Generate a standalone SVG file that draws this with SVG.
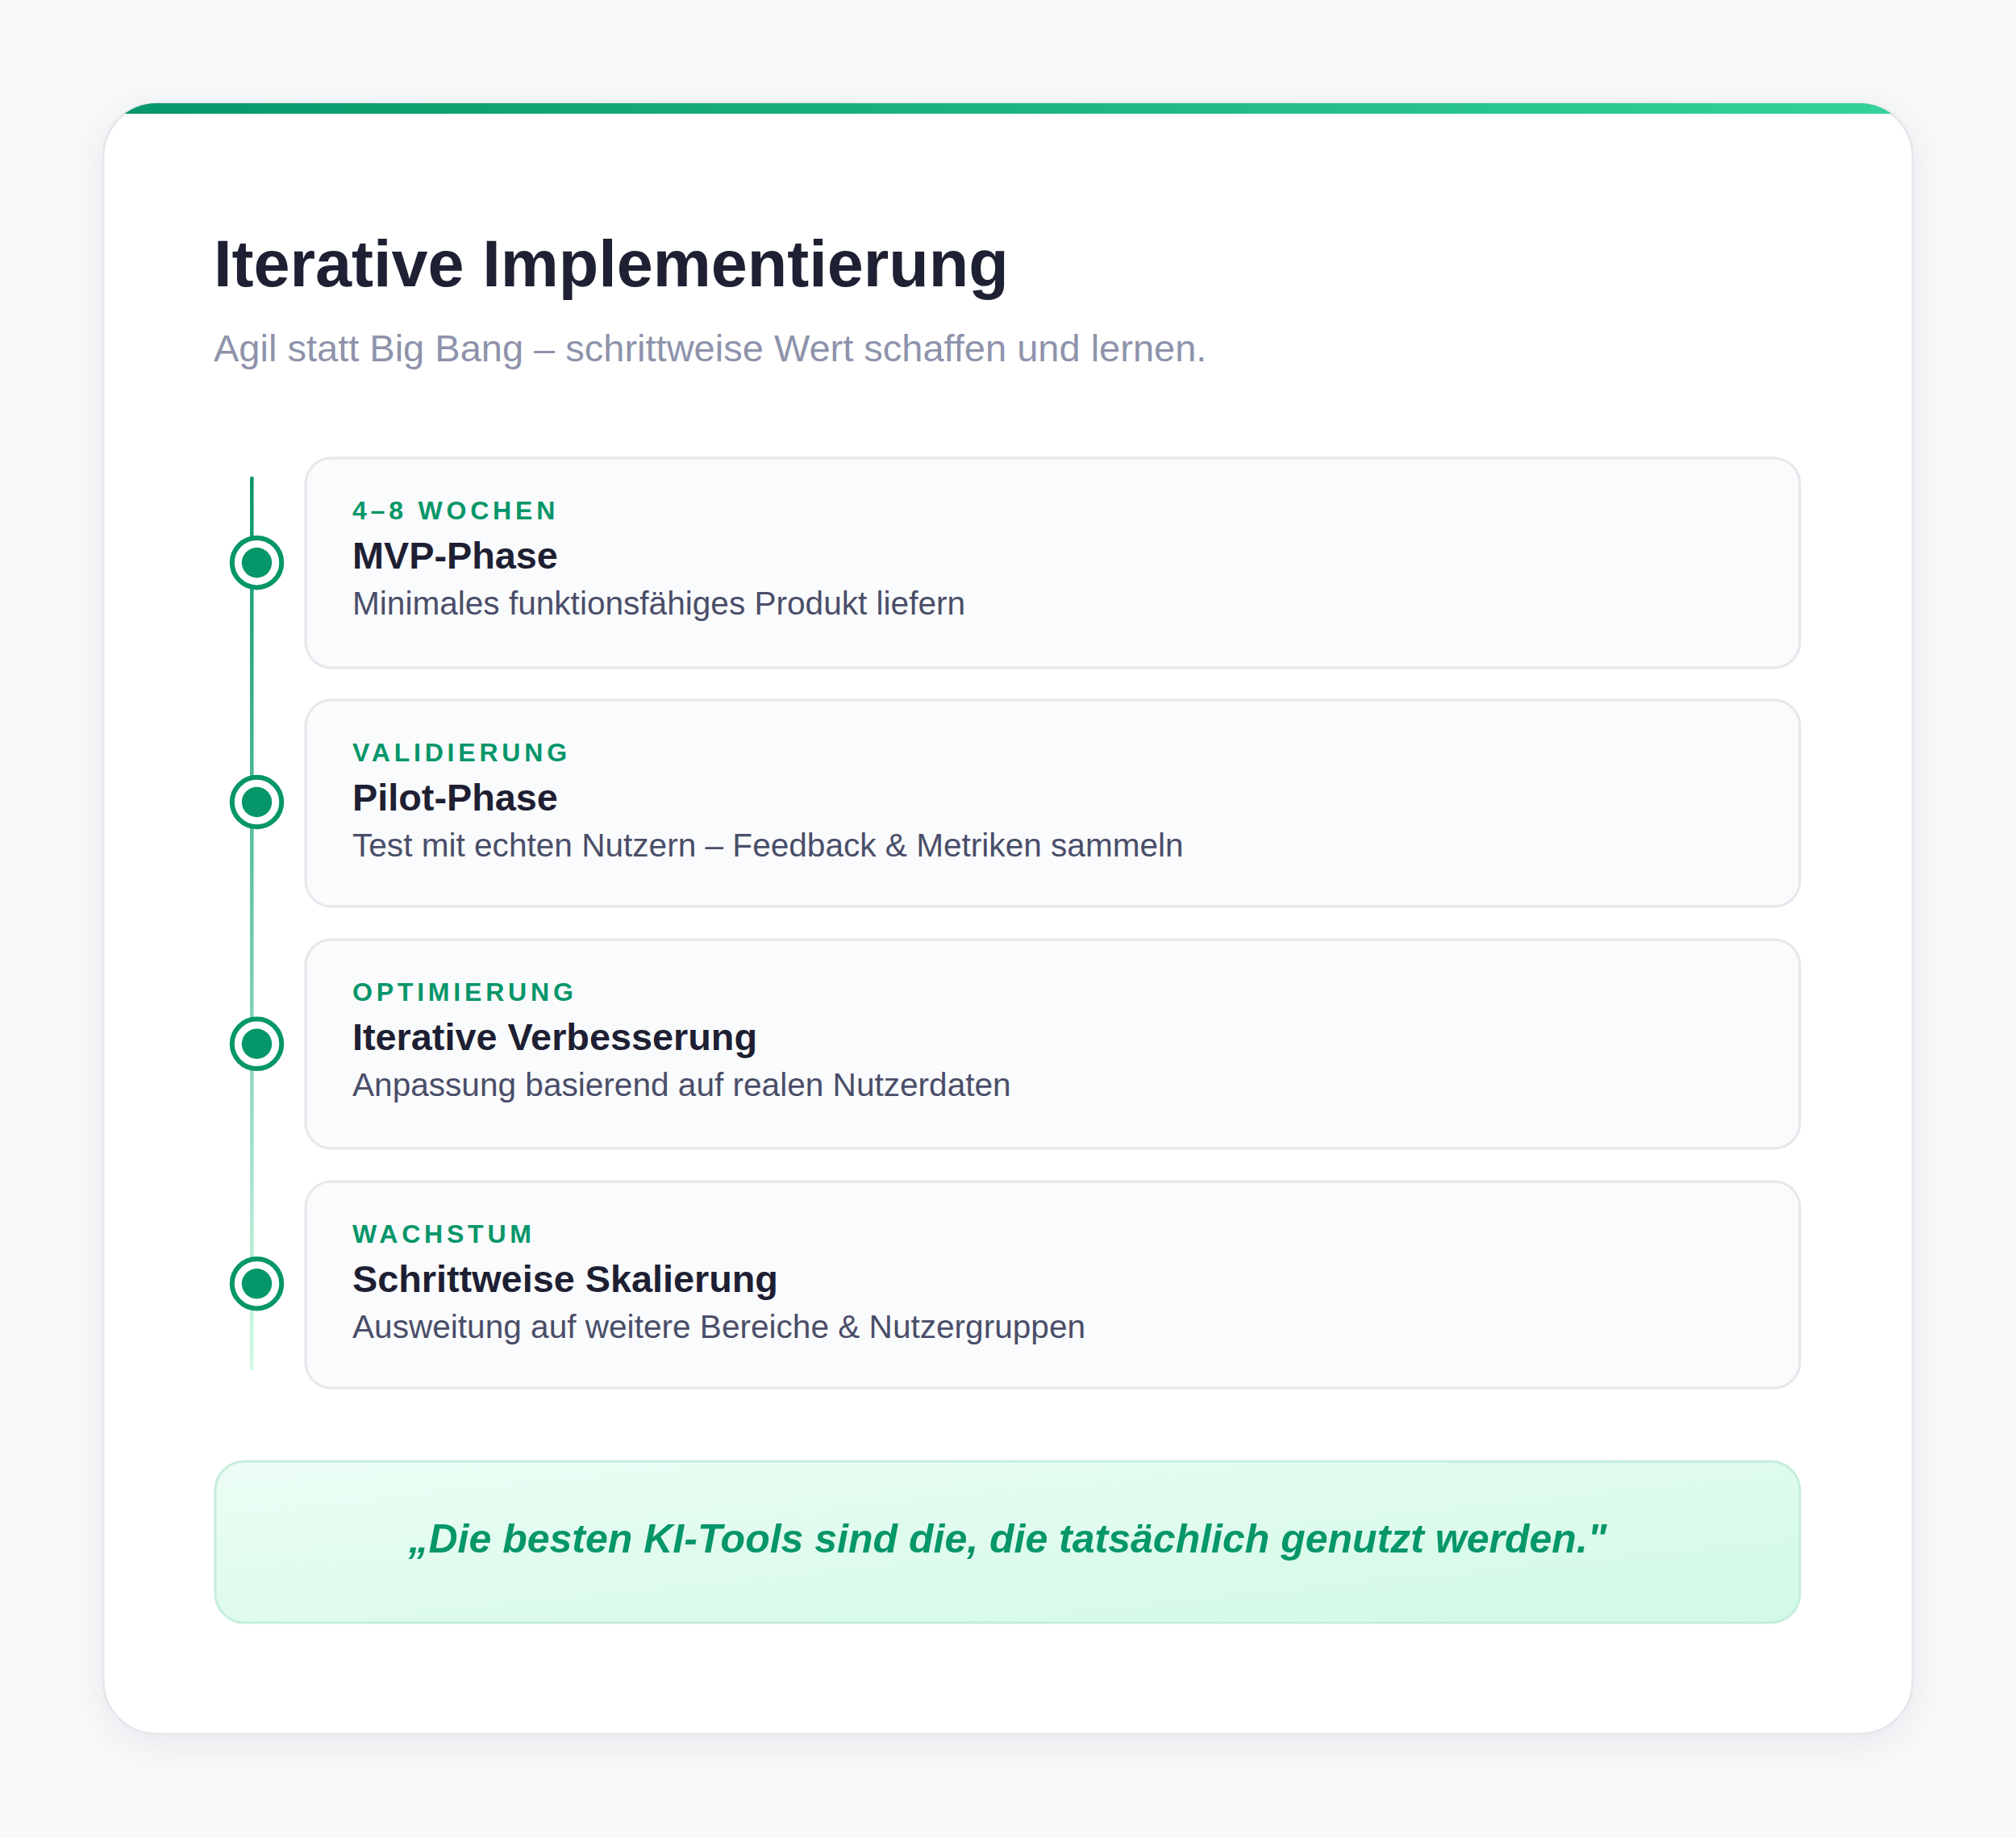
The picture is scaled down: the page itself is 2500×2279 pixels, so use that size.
<svg xmlns="http://www.w3.org/2000/svg" width="2500" height="2279" viewBox="0 0 2500 2279">
<style>
  .label{font-family:"Liberation Sans",Arial,sans-serif;font-weight:700;font-size:32px;letter-spacing:4.8px;fill:#059669}
  .ttl{font-family:"Liberation Sans",Arial,sans-serif;font-weight:700;font-size:46.8px;fill:#1e1f33}
  .desc{font-family:"Liberation Sans",Arial,sans-serif;font-size:40.6px;fill:#4a4e69}
  .step{fill:#fafbfc;stroke:#e5e7eb;stroke-width:3}
  .ring{fill:#ffffff;stroke:#059669;stroke-width:6}
  .core{fill:#059669}
</style>
<defs>
  <linearGradient id="bar" x1="0" y1="0" x2="1" y2="0">
    <stop offset="0" stop-color="#059669"/>
    <stop offset="1" stop-color="#34d399"/>
  </linearGradient>
  <linearGradient id="line" x1="0" y1="593" x2="0" y2="1697" gradientUnits="userSpaceOnUse">
    <stop offset="0" stop-color="#059669"/>
    <stop offset="1" stop-color="#d1fae5"/>
  </linearGradient>
  <linearGradient id="quote" x1="0" y1="0" x2="1" y2="1">
    <stop offset="0" stop-color="#ecfdf5"/>
    <stop offset="1" stop-color="#d1fae5"/>
  </linearGradient>
  <clipPath id="cardClip">
    <rect x="128" y="128" width="2244" height="2022" rx="66"/>
  </clipPath>
  <filter id="shadow" x="-10%" y="-10%" width="120%" height="120%">
    <feDropShadow dx="0" dy="10" stdDeviation="22" flood-color="#1e2033" flood-opacity="0.07"/>
  </filter>
</defs>

<rect x="0" y="0" width="2500" height="2279" fill="#f8f9fb"/>

<g id="card">
  <rect x="128" y="128" width="2244" height="2022" rx="66" fill="#ffffff" stroke="#e5e7eb" stroke-width="3" filter="url(#shadow)"/>
  <rect x="128" y="128" width="2244" height="13" fill="url(#bar)" clip-path="url(#cardClip)"/>
</g>

<g id="header">
  <text x="265" y="355" font-family="Liberation Sans, Arial, sans-serif" font-weight="700" font-size="81" fill="#1e2033">Iterative Implementierung</text>
  <text x="265" y="448" font-family="Liberation Sans, Arial, sans-serif" font-size="47" fill="#8e93ab">Agil statt Big Bang – schrittweise Wert schaffen und lernen.</text>
</g>

<g id="connectors">
  <line x1="312.3" y1="593" x2="312.3" y2="1697" stroke="url(#line)" stroke-width="4.5" stroke-linecap="round"/>
</g>

<g id="step1">
  <rect class="step" x="379" y="568" width="1853" height="260" rx="32"/>
  <circle class="ring" cx="318.5" cy="697.7" r="30.7"/>
  <circle class="core" cx="318.5" cy="697.7" r="18.7"/>
  <text class="label" x="437" y="644">4–8 WOCHEN</text>
  <text class="ttl" x="437" y="704.5">MVP-Phase</text>
  <text class="desc" x="437" y="762">Minimales funktionsfähiges Produkt liefern</text>
</g>

<g id="step2">
  <rect class="step" x="379" y="868" width="1853" height="256" rx="32"/>
  <circle class="ring" cx="318.5" cy="994.5" r="30.7"/>
  <circle class="core" cx="318.5" cy="994.5" r="18.7"/>
  <text class="label" x="437" y="944">VALIDIERUNG</text>
  <text class="ttl" x="437" y="1004.5">Pilot-Phase</text>
  <text class="desc" x="437" y="1062">Test mit echten Nutzern – Feedback &amp; Metriken sammeln</text>
</g>

<g id="step3">
  <rect class="step" x="379" y="1165" width="1853" height="259" rx="32"/>
  <circle class="ring" cx="318.5" cy="1294.3" r="30.7"/>
  <circle class="core" cx="318.5" cy="1294.3" r="18.7"/>
  <text class="label" x="437" y="1241">OPTIMIERUNG</text>
  <text class="ttl" x="437" y="1301.5">Iterative Verbesserung</text>
  <text class="desc" x="437" y="1359">Anpassung basierend auf realen Nutzerdaten</text>
</g>

<g id="step4">
  <rect class="step" x="379" y="1465" width="1853" height="256" rx="32"/>
  <circle class="ring" cx="318.5" cy="1591.7" r="30.7"/>
  <circle class="core" cx="318.5" cy="1591.7" r="18.7"/>
  <text class="label" x="437" y="1541">WACHSTUM</text>
  <text class="ttl" x="437" y="1601.5">Schrittweise Skalierung</text>
  <text class="desc" x="437" y="1659">Ausweitung auf weitere Bereiche &amp; Nutzergruppen</text>
</g>

<g id="quote-box">
  <rect x="267" y="1812" width="1965" height="200" rx="36" fill="url(#quote)" stroke="#c4eedb" stroke-width="3"/>
  <text x="1249.5" y="1925" text-anchor="middle" font-family="Liberation Sans, Arial, sans-serif" font-weight="700" font-style="italic" font-size="50" fill="#059669">„Die besten KI-Tools sind die, die tatsächlich genutzt werden."</text>
</g>
</svg>
